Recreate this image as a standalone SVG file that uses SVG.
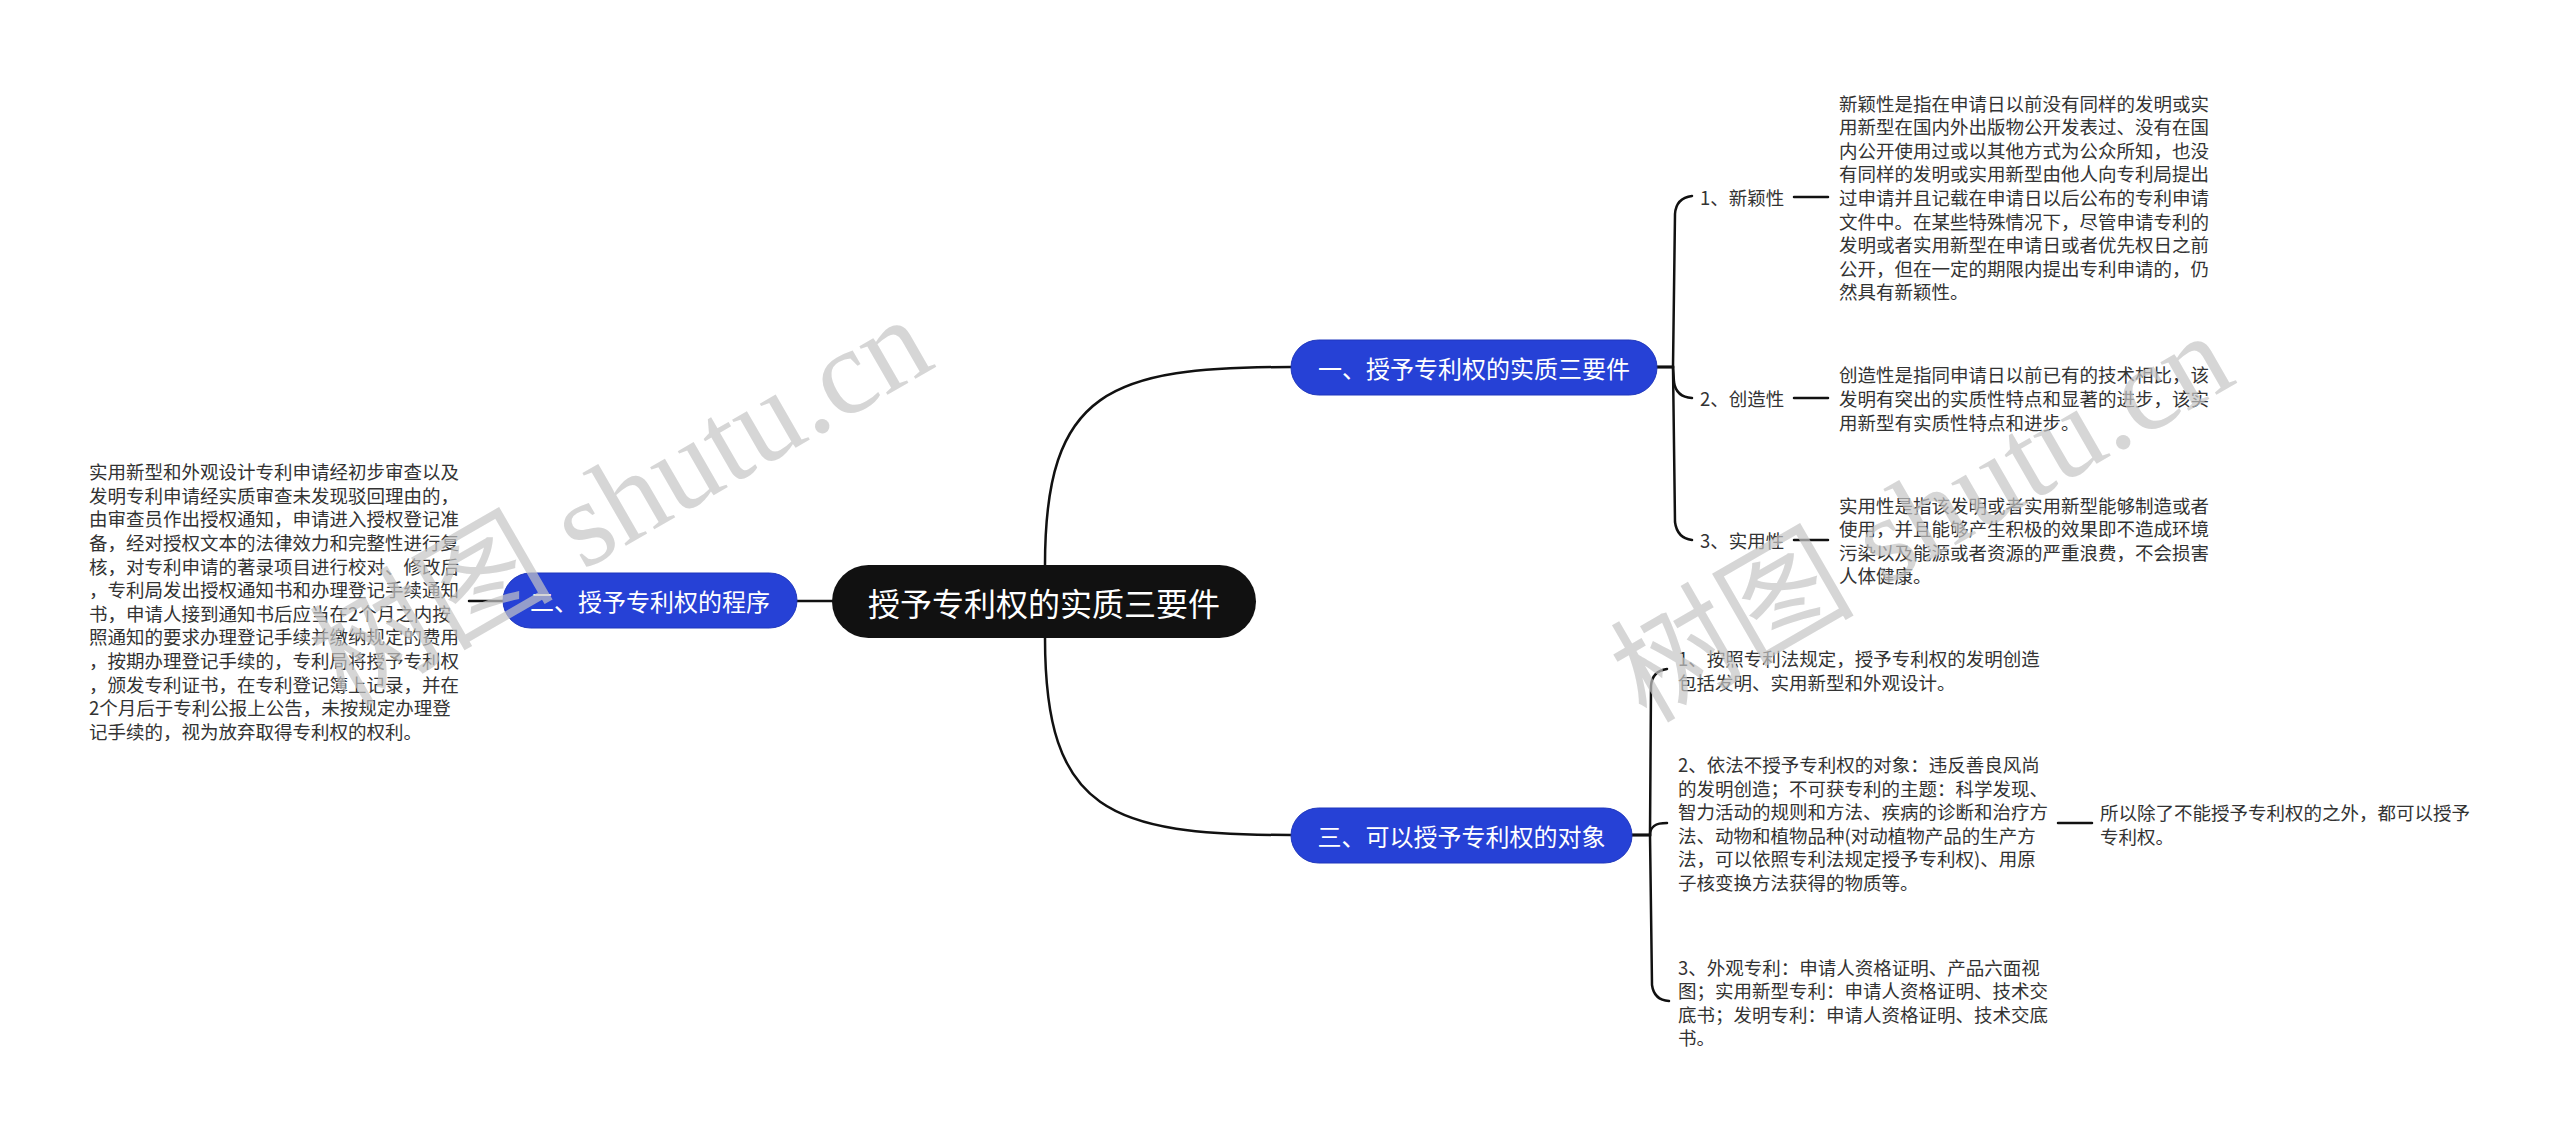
<svg xmlns="http://www.w3.org/2000/svg" width="2560" height="1137" viewBox="0 0 2560 1137">
<style>
text{font-family:"Noto Sans CJK SC","Noto Sans",sans-serif;dominant-baseline:central}
.body{font-size:18.5px;fill:#333}
.lbl{font-size:18.5px;fill:#333}
.blue{fill:#2641d6;stroke:#1f37bd;stroke-width:1}
.bt{font-size:24px;fill:#fff;text-anchor:middle}
.ct{font-size:32px;fill:#fff;text-anchor:middle}
.ln{fill:none;stroke:#111;stroke-width:2.5;stroke-linecap:round}
.wm{font-family:"Liberation Serif","Noto Sans CJK SC",serif;font-size:122px;fill:#c4c4c4;fill-opacity:0.7;dominant-baseline:auto}
</style>
<rect width="2560" height="1137" fill="#fff"/>
<g id="connectors">
<path class="ln" d="M1045,565 C1045,390 1110,367 1291,367"/>
<path class="ln" d="M1045,638 C1045,812 1110,835 1291,835"/>
<path class="ln" d="M832,601 H797"/>
<path class="ln" d="M503,601 H469"/>
<path class="ln" d="M1657,367 H1673 L1675,214 Q1676,198 1692,196"/>
<path class="ln" d="M1657,367 H1673 L1674,382 Q1676,397 1692,398"/>
<path class="ln" d="M1657,367 H1673 L1675,522 Q1677,538 1692,540"/>
<path class="ln" d="M1794,197 H1828"/>
<path class="ln" d="M1794,398 H1828"/>
<path class="ln" d="M1794,540 H1828"/>
<path class="ln" d="M1632,835 H1650 L1651,686 Q1652,671 1667,669"/>
<path class="ln" d="M1632,835 H1650 C1650,826 1656,823 1667,823"/>
<path class="ln" d="M1632,835 H1650 L1652,985 Q1654,1000 1669,1001"/>
<path class="ln" d="M2058,823 H2092"/>
</g>
<g id="root">
<rect x="832" y="565" width="424" height="73" rx="36.5" fill="#111"/>
<text class="ct" x="1044" y="601.5">授予专利权的实质三要件</text>
</g>
<g id="n1">
<rect class="blue" x="1291" y="340" width="366" height="55" rx="27.5"/>
<text class="bt" x="1474" y="367.5">一、授予专利权的实质三要件</text>
</g>
<g id="n2">
<rect class="blue" x="503" y="573" width="294" height="55" rx="27.5"/>
<text class="bt" x="650" y="600.5">二、授予专利权的程序</text>
</g>
<g id="n3">
<rect class="blue" x="1291" y="808" width="341" height="55" rx="27.5"/>
<text class="bt" x="1461.5" y="835.5">三、可以授予专利权的对象</text>
</g>
<g id="n1-1">
<text class="lbl" x="1700" y="197">1、新颖性</text>
</g>
<g id="n1-1-1">
<text class="body" x="1839" y="102.6">新颖性是指在申请日以前没有同样的发明或实</text>
<text class="body" x="1839" y="126.2">用新型在国内外出版物公开发表过、没有在国</text>
<text class="body" x="1839" y="149.8">内公开使用过或以其他方式为公众所知，也没</text>
<text class="body" x="1839" y="173.4">有同样的发明或实用新型由他人向专利局提出</text>
<text class="body" x="1839" y="197">过申请并且记载在申请日以后公布的专利申请</text>
<text class="body" x="1839" y="220.6">文件中。在某些特殊情况下，尽管申请专利的</text>
<text class="body" x="1839" y="244.2">发明或者实用新型在申请日或者优先权日之前</text>
<text class="body" x="1839" y="267.8">公开，但在一定的期限内提出专利申请的，仍</text>
<text class="body" x="1839" y="291.4">然具有新颖性。</text>
</g>
<g id="n1-2">
<text class="lbl" x="1700" y="398">2、创造性</text>
</g>
<g id="n1-2-1">
<text class="body" x="1839" y="374.4">创造性是指同申请日以前已有的技术相比，该</text>
<text class="body" x="1839" y="398">发明有突出的实质性特点和显著的进步，该实</text>
<text class="body" x="1839" y="421.6">用新型有实质性特点和进步。</text>
</g>
<g id="n1-3">
<text class="lbl" x="1700" y="540">3、实用性</text>
</g>
<g id="n1-3-1">
<text class="body" x="1839" y="504.6">实用性是指该发明或者实用新型能够制造或者</text>
<text class="body" x="1839" y="528.2">使用，并且能够产生积极的效果即不造成环境</text>
<text class="body" x="1839" y="551.8">污染以及能源或者资源的严重浪费，不会损害</text>
<text class="body" x="1839" y="575.4">人体健康。</text>
</g>
<g id="n2-1">
<text class="body" x="89" y="471.2">实用新型和外观设计专利申请经初步审查以及</text>
<text class="body" x="89" y="494.8">发明专利申请经实质审查未发现驳回理由的，</text>
<text class="body" x="89" y="518.4">由审查员作出授权通知，申请进入授权登记准</text>
<text class="body" x="89" y="542">备，经对授权文本的法律效力和完整性进行复</text>
<text class="body" x="89" y="565.6">核，对专利申请的著录项目进行校对、修改后</text>
<text class="body" x="89" y="589.2">，专利局发出授权通知书和办理登记手续通知</text>
<text class="body" x="89" y="612.8">书，申请人接到通知书后应当在2个月之内按</text>
<text class="body" x="89" y="636.4">照通知的要求办理登记手续并缴纳规定的费用</text>
<text class="body" x="89" y="660">，按期办理登记手续的，专利局将授予专利权</text>
<text class="body" x="89" y="683.6">，颁发专利证书，在专利登记簿上记录，并在</text>
<text class="body" x="89" y="707.2">2个月后于专利公报上公告，未按规定办理登</text>
<text class="body" x="89" y="730.8">记手续的，视为放弃取得专利权的权利。</text>
</g>
<g id="n3-1">
<text class="body" x="1678" y="658.2">1、按照专利法规定，授予专利权的发明创造</text>
<text class="body" x="1678" y="681.8">包括发明、实用新型和外观设计。</text>
</g>
<g id="n3-2">
<text class="body" x="1678" y="764">2、依法不授予专利权的对象：违反善良风尚</text>
<text class="body" x="1678" y="787.6">的发明创造；不可获专利的主题：科学发现、</text>
<text class="body" x="1678" y="811.2">智力活动的规则和方法、疾病的诊断和治疗方</text>
<text class="body" x="1678" y="834.8">法、动物和植物品种(对动植物产品的生产方</text>
<text class="body" x="1678" y="858.4">法，可以依照专利法规定授予专利权)、用原</text>
<text class="body" x="1678" y="882">子核变换方法获得的物质等。</text>
</g>
<g id="n3-2-1">
<text class="body" x="2100" y="812.2">所以除了不能授予专利权的之外，都可以授予</text>
<text class="body" x="2100" y="835.8">专利权。</text>
</g>
<g id="n3-3">
<text class="body" x="1678" y="966.6">3、外观专利：申请人资格证明、产品六面视</text>
<text class="body" x="1678" y="990.2">图；实用新型专利：申请人资格证明、技术交</text>
<text class="body" x="1678" y="1013.8">底书；发明专利：申请人资格证明、技术交底</text>
<text class="body" x="1678" y="1037.4">书。</text>
</g>
<g id="watermarks">
<text class="wm" transform="translate(345,708) rotate(-30)">树图 shutu.cn</text>
<text class="wm" transform="translate(1646,724) rotate(-30)">树图 shutu.cn</text>
</g>
</svg>
